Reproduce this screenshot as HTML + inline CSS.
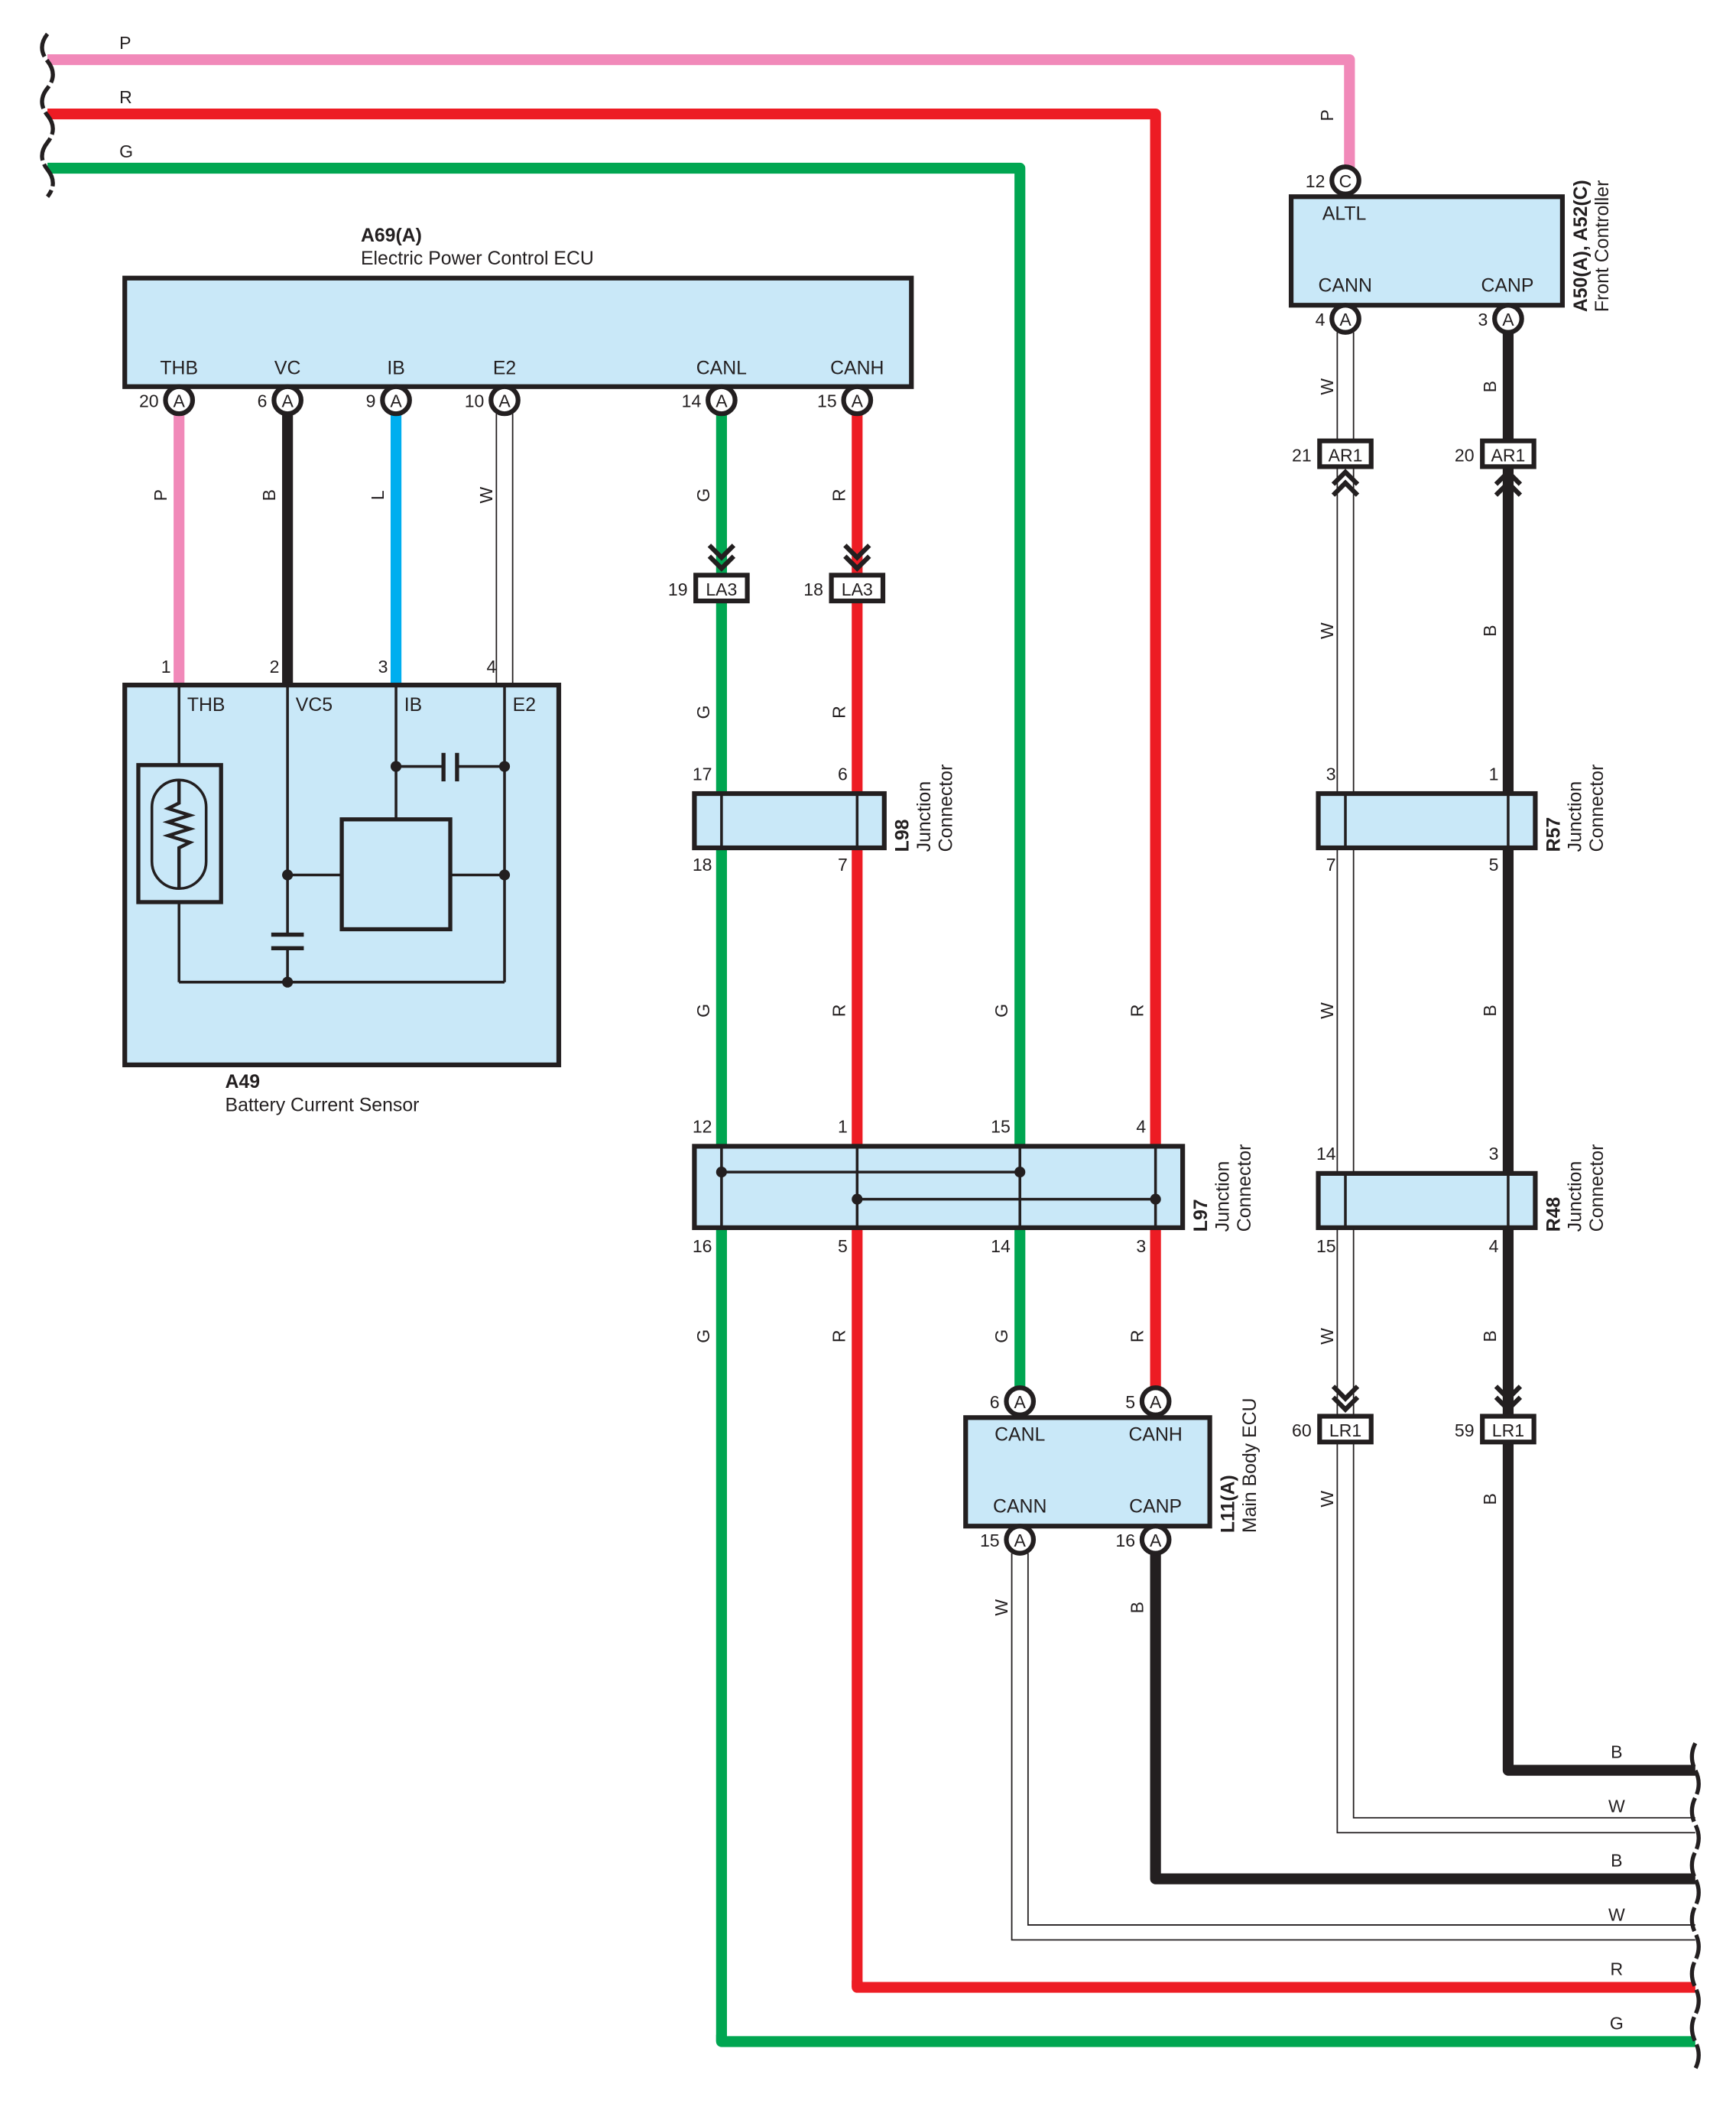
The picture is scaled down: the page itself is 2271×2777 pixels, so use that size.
<!DOCTYPE html>
<html><head><meta charset="utf-8"><style>
html,body{margin:0;padding:0;background:#fff;}
svg{display:block;}
text{font-family:"Liberation Sans",sans-serif;fill:#231f20;}
</style></head><body>
<svg width="2271" height="2777" viewBox="0 0 1280 1565" preserveAspectRatio="none" xmlns="http://www.w3.org/2000/svg">
<defs>
<g id="pinA"><circle r="10" fill="#fff" stroke="#231f20" stroke-width="3.5"/><text y="5" font-size="13" text-anchor="middle">A</text></g>
<g id="chevD" fill="none" stroke="#231f20" stroke-width="3.5"><path d="M-9,-22 L0,-13 L9,-22 M-9,-14 L0,-5 L9,-14"/></g>
<g id="chevU" fill="none" stroke="#231f20" stroke-width="3.5"><path d="M-9,22 L0,13 L9,22 M-9,14 L0,5 L9,14"/></g>
</defs>

<!-- top wires -->
<g fill="none" stroke-linejoin="round" stroke-width="8">
<path d="M35,44 H995 V125" stroke="#f189b9"/>
<path d="M35,84 H852 V1025" stroke="#ed1c24"/>
<path d="M35,124 H752 V1025" stroke="#00a651"/>
</g>
<path d="M35,25 q-8,10 0,20 q8,10 0,20 q-8,10 0,20 q8,10 0,20 q-8,10 0,20 q8,10 0,20" fill="none" stroke="#231f20" stroke-width="3" stroke-dasharray="18 3"/>
<text x="88" y="36" font-size="13">P</text>
<text x="88" y="76" font-size="13">R</text>
<text x="88" y="116" font-size="13">G</text>

<!-- A69 ECU -->
<rect x="92" y="205" width="580" height="80" fill="#c9e8f8" stroke="#231f20" stroke-width="3.5"/>
<text x="266" y="178" font-size="14" font-weight="bold">A69(A)</text>
<text x="266" y="195" font-size="14">Electric Power Control ECU</text>
<g font-size="14" text-anchor="middle">
<text x="132" y="276">THB</text><text x="212" y="276">VC</text><text x="292" y="276">IB</text><text x="372" y="276">E2</text><text x="532" y="276">CANL</text><text x="632" y="276">CANH</text>
</g>

<!-- wires ECU to sensor -->
<g stroke-width="8" fill="none">
<line x1="132" y1="305" x2="132" y2="505" stroke="#f189b9"/>
<line x1="212" y1="305" x2="212" y2="505" stroke="#231f20"/>
<line x1="292" y1="305" x2="292" y2="505" stroke="#00aeef"/>
<line x1="532" y1="305" x2="532" y2="845" stroke="#00a651"/>
<line x1="632" y1="305" x2="632" y2="845" stroke="#ed1c24"/>
<line x1="532" y1="905" x2="532" y2="1505" stroke="#00a651"/>
<line x1="632" y1="905" x2="632" y2="1465" stroke="#ed1c24"/>
<path d="M532,1500 V1505 H1250" stroke="#00a651" stroke-linejoin="round"/>
<path d="M632,1460 V1465 H1250" stroke="#ed1c24" stroke-linejoin="round"/>
<path d="M852,1145 V1385 H1250" stroke="#231f20" stroke-linejoin="round"/>
<path d="M1112,245 V1305 H1250" stroke="#231f20" stroke-linejoin="round"/>
</g>
<!-- white wires -->
<g stroke="#231f20" stroke-width="1" fill="none">
<line x1="366" y1="305" x2="366" y2="505"/><line x1="378" y1="305" x2="378" y2="505"/>
<path d="M986,245 V1351 H1250"/><path d="M998,245 V1340 H1250"/>
<path d="M746,1145 V1430 H1250"/><path d="M758,1145 V1419 H1250"/>
</g>
<!-- pins ECU -->
<use href="#pinA" x="132" y="295"/><use href="#pinA" x="212" y="295"/><use href="#pinA" x="292" y="295"/><use href="#pinA" x="372" y="295"/><use href="#pinA" x="532" y="295"/><use href="#pinA" x="632" y="295"/>
<g font-size="13" text-anchor="end">
<text x="117" y="300">20</text><text x="197" y="300">6</text><text x="277" y="300">9</text><text x="357" y="300">10</text><text x="517" y="300">14</text><text x="617" y="300">15</text>
<text x="126" y="496">1</text><text x="206" y="496">2</text><text x="286" y="496">3</text><text x="366" y="496">4</text>
</g>

<!-- wire color labels rotated -->
<g font-size="13" text-anchor="middle">
<text transform="translate(123,365) rotate(-90)">P</text>
<text transform="translate(203,365) rotate(-90)">B</text>
<text transform="translate(283,365) rotate(-90)">L</text>
<text transform="translate(363,365) rotate(-90)">W</text>
<text transform="translate(523,365) rotate(-90)">G</text>
<text transform="translate(623,365) rotate(-90)">R</text>
<text transform="translate(523,525) rotate(-90)">G</text>
<text transform="translate(623,525) rotate(-90)">R</text>
<text transform="translate(523,745) rotate(-90)">G</text>
<text transform="translate(623,745) rotate(-90)">R</text>
<text transform="translate(743,745) rotate(-90)">G</text>
<text transform="translate(843,745) rotate(-90)">R</text>
<text transform="translate(523,985) rotate(-90)">G</text>
<text transform="translate(623,985) rotate(-90)">R</text>
<text transform="translate(743,985) rotate(-90)">G</text>
<text transform="translate(843,985) rotate(-90)">R</text>
<text transform="translate(743,1185) rotate(-90)">W</text>
<text transform="translate(843,1185) rotate(-90)">B</text>
<text transform="translate(983,85) rotate(-90)">P</text>
<text transform="translate(983,285) rotate(-90)">W</text><text transform="translate(1103,285) rotate(-90)">B</text>
<text transform="translate(983,465) rotate(-90)">W</text><text transform="translate(1103,465) rotate(-90)">B</text>
<text transform="translate(983,745) rotate(-90)">W</text><text transform="translate(1103,745) rotate(-90)">B</text>
<text transform="translate(983,985) rotate(-90)">W</text><text transform="translate(1103,985) rotate(-90)">B</text>
<text transform="translate(983,1105) rotate(-90)">W</text><text transform="translate(1103,1105) rotate(-90)">B</text>
</g>

<!-- Sensor A49 -->
<rect x="92" y="505" width="320" height="280" fill="#c9e8f8" stroke="#231f20" stroke-width="3.5"/>
<g stroke="#231f20" stroke-width="2" fill="none">
<line x1="132" y1="505" x2="132" y2="724"/>
<line x1="212" y1="505" x2="212" y2="689"/><line x1="212" y1="699" x2="212" y2="724"/>
<line x1="292" y1="505" x2="292" y2="604"/>
<line x1="372" y1="505" x2="372" y2="724"/>
<line x1="132" y1="724" x2="372" y2="724"/>
<line x1="292" y1="565" x2="327" y2="565"/><line x1="337" y1="565" x2="372" y2="565"/>
<line x1="212" y1="645" x2="251" y2="645"/><line x1="332" y1="645" x2="372" y2="645"/>
</g>
<rect x="102" y="564" width="61" height="101" fill="#c9e8f8" stroke="#231f20" stroke-width="3"/>
<rect x="112" y="575" width="40" height="80" rx="20" fill="#c9e8f8" stroke="#231f20" stroke-width="2"/>
<path d="M132,575 V592 L124,596 L140,601 L124,606 L140,611 L124,616 L140,621 L132,625 V655" fill="none" stroke="#231f20" stroke-width="2.5"/>
<rect x="252" y="604" width="80" height="81" fill="none" stroke="#231f20" stroke-width="3"/>
<g stroke="#231f20" stroke-width="3"><line x1="327" y1="555" x2="327" y2="576"/><line x1="337" y1="555" x2="337" y2="576"/>
<line x1="200" y1="689" x2="224" y2="689"/><line x1="200" y1="699" x2="224" y2="699"/></g>
<g fill="#231f20"><circle cx="292" cy="565" r="4"/><circle cx="372" cy="565" r="4"/><circle cx="212" cy="645" r="4"/><circle cx="372" cy="645" r="4"/><circle cx="212" cy="724" r="4"/></g>
<g font-size="14"><text x="138" y="524">THB</text><text x="218" y="524">VC5</text><text x="298" y="524">IB</text><text x="378" y="524">E2</text></g>
<text x="166" y="802" font-size="14" font-weight="bold">A49</text>
<text x="166" y="819" font-size="14">Battery Current Sensor</text>

<!-- LA3 -->
<use href="#chevD" x="532" y="424"/><use href="#chevD" x="632" y="424"/>
<rect x="513" y="424" width="38" height="19" fill="#fff" stroke="#231f20" stroke-width="3.5"/>
<rect x="613" y="424" width="38" height="19" fill="#fff" stroke="#231f20" stroke-width="3.5"/>
<g font-size="13" text-anchor="middle"><text x="532" y="439">LA3</text><text x="632" y="439">LA3</text></g>
<g font-size="13" text-anchor="end"><text x="507" y="439">19</text><text x="607" y="439">18</text></g>

<!-- L98 -->
<rect x="512" y="585" width="140" height="40" fill="#c9e8f8" stroke="#231f20" stroke-width="3.5"/>
<g stroke="#231f20" stroke-width="2"><line x1="532" y1="585" x2="532" y2="625"/><line x1="632" y1="585" x2="632" y2="625"/></g>
<g font-size="13" text-anchor="end"><text x="525" y="575">17</text><text x="625" y="575">6</text><text x="525" y="642">18</text><text x="625" y="642">7</text></g>
<text transform="translate(670,628) rotate(-90)" font-size="14" font-weight="bold">L98</text>
<text transform="translate(686,628) rotate(-90)" font-size="14">Junction</text>
<text transform="translate(702,628) rotate(-90)" font-size="14">Connector</text>

<!-- L97 -->
<rect x="512" y="845" width="360" height="60" fill="#c9e8f8" stroke="#231f20" stroke-width="3.5"/>
<g stroke="#231f20" stroke-width="2"><line x1="532" y1="845" x2="532" y2="905"/><line x1="632" y1="845" x2="632" y2="905"/><line x1="752" y1="845" x2="752" y2="905"/><line x1="852" y1="845" x2="852" y2="905"/>
<line x1="532" y1="864" x2="752" y2="864"/><line x1="632" y1="884" x2="852" y2="884"/></g>
<g fill="#231f20"><circle cx="532" cy="864" r="4"/><circle cx="752" cy="864" r="4"/><circle cx="632" cy="884" r="4"/><circle cx="852" cy="884" r="4"/></g>
<g font-size="13" text-anchor="end"><text x="525" y="835">12</text><text x="625" y="835">1</text><text x="745" y="835">15</text><text x="845" y="835">4</text>
<text x="525" y="923">16</text><text x="625" y="923">5</text><text x="745" y="923">14</text><text x="845" y="923">3</text></g>
<text transform="translate(890,908) rotate(-90)" font-size="14" font-weight="bold">L97</text>
<text transform="translate(906,908) rotate(-90)" font-size="14">Junction</text>
<text transform="translate(922,908) rotate(-90)" font-size="14">Connector</text>

<!-- L11 -->
<rect x="712" y="1045" width="180" height="80" fill="#c9e8f8" stroke="#231f20" stroke-width="3.5"/>
<use href="#pinA" x="752" y="1033"/><use href="#pinA" x="852" y="1033"/><use href="#pinA" x="752" y="1135"/><use href="#pinA" x="852" y="1135"/>
<g font-size="14" text-anchor="middle"><text x="752" y="1062">CANL</text><text x="852" y="1062">CANH</text><text x="752" y="1115">CANN</text><text x="852" y="1115">CANP</text></g>
<g font-size="13" text-anchor="end"><text x="737" y="1038">6</text><text x="837" y="1038">5</text><text x="737" y="1140">15</text><text x="837" y="1140">16</text></g>
<text transform="translate(910,1130) rotate(-90)" font-size="14" font-weight="bold">L11(A)</text>
<text transform="translate(926,1130) rotate(-90)" font-size="14">Main Body ECU</text>

<!-- Front Controller -->
<rect x="952" y="145" width="200" height="80" fill="#c9e8f8" stroke="#231f20" stroke-width="3.5"/>
<g><circle cx="992" cy="133" r="10" fill="#fff" stroke="#231f20" stroke-width="3.5"/><text x="992" y="138" font-size="13" text-anchor="middle">C</text></g>
<use href="#pinA" x="992" y="235"/><use href="#pinA" x="1112" y="235"/>
<g font-size="14"><text x="975" y="162">ALTL</text><text x="972" y="215">CANN</text><text x="1092" y="215">CANP</text></g>
<g font-size="13" text-anchor="end"><text x="977" y="138">12</text><text x="977" y="240">4</text><text x="1097" y="240">3</text></g>
<text transform="translate(1170,230) rotate(-90)" font-size="14" font-weight="bold">A50(A), A52(C)</text>
<text transform="translate(1186,230) rotate(-90)" font-size="14">Front Controller</text>

<!-- AR1 -->
<use href="#chevU" x="992" y="343"/><use href="#chevU" x="1112" y="343"/>
<rect x="973" y="325" width="38" height="19" fill="#fff" stroke="#231f20" stroke-width="3.5"/>
<rect x="1093" y="325" width="38" height="19" fill="#fff" stroke="#231f20" stroke-width="3.5"/>
<g font-size="13" text-anchor="middle"><text x="992" y="340">AR1</text><text x="1112" y="340">AR1</text></g>
<g font-size="13" text-anchor="end"><text x="967" y="340">21</text><text x="1087" y="340">20</text></g>

<!-- R57 -->
<rect x="972" y="585" width="160" height="40" fill="#c9e8f8" stroke="#231f20" stroke-width="3.5"/>
<g stroke="#231f20" stroke-width="2"><line x1="992" y1="585" x2="992" y2="625"/><line x1="1112" y1="585" x2="1112" y2="625"/></g>
<g font-size="13" text-anchor="end"><text x="985" y="575">3</text><text x="1105" y="575">1</text><text x="985" y="642">7</text><text x="1105" y="642">5</text></g>
<text transform="translate(1150,628) rotate(-90)" font-size="14" font-weight="bold">R57</text>
<text transform="translate(1166,628) rotate(-90)" font-size="14">Junction</text>
<text transform="translate(1182,628) rotate(-90)" font-size="14">Connector</text>

<!-- R48 -->
<rect x="972" y="865" width="160" height="40" fill="#c9e8f8" stroke="#231f20" stroke-width="3.5"/>
<g stroke="#231f20" stroke-width="2"><line x1="992" y1="865" x2="992" y2="905"/><line x1="1112" y1="865" x2="1112" y2="905"/></g>
<g font-size="13" text-anchor="end"><text x="985" y="855">14</text><text x="1105" y="855">3</text><text x="985" y="923">15</text><text x="1105" y="923">4</text></g>
<text transform="translate(1150,908) rotate(-90)" font-size="14" font-weight="bold">R48</text>
<text transform="translate(1166,908) rotate(-90)" font-size="14">Junction</text>
<text transform="translate(1182,908) rotate(-90)" font-size="14">Connector</text>

<!-- LR1 -->
<use href="#chevD" x="992" y="1044"/><use href="#chevD" x="1112" y="1044"/>
<rect x="973" y="1044" width="38" height="19" fill="#fff" stroke="#231f20" stroke-width="3.5"/>
<rect x="1093" y="1044" width="38" height="19" fill="#fff" stroke="#231f20" stroke-width="3.5"/>
<g font-size="13" text-anchor="middle"><text x="992" y="1059">LR1</text><text x="1112" y="1059">LR1</text></g>
<g font-size="13" text-anchor="end"><text x="967" y="1059">60</text><text x="1087" y="1059">59</text></g>

<!-- bottom right labels + wavy -->
<g font-size="13" text-anchor="middle">
<text x="1192" y="1296">B</text><text x="1192" y="1336">W</text><text x="1192" y="1376">B</text><text x="1192" y="1416">W</text><text x="1192" y="1456">R</text><text x="1192" y="1496">G</text>
</g>
<path d="M1250,1285 q-5,10 0,20 q5,10 0,20 q-5,10 0,20 q5,10 0,20 q-5,10 0,20 q5,10 0,20 q-5,10 0,20 q5,10 0,20 q-5,10 0,20 q5,10 0,20 q-5,10 0,20 q5,10 0,20" fill="none" stroke="#231f20" stroke-width="3" stroke-dasharray="18 3"/>
</svg>
</body></html>
